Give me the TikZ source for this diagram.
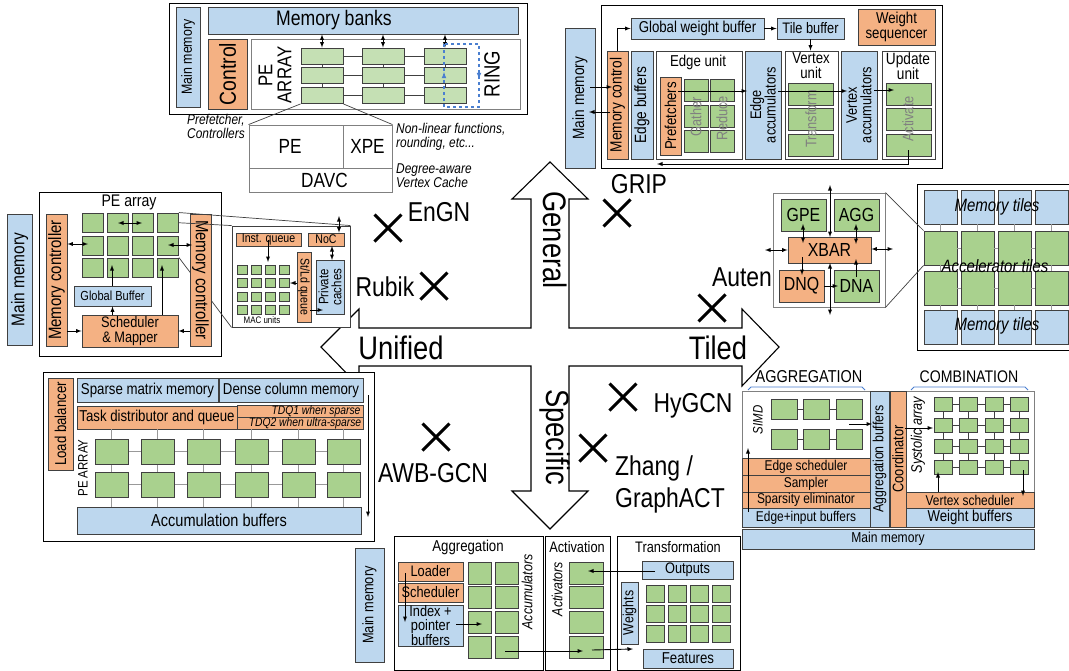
\documentclass[tikz,border=0pt]{standalone}
\usepackage{fontspec}
\setmainfont[Scale=1.05,FakeStretch=0.84]{Liberation Sans}
\usetikzlibrary{shapes.misc}
\definecolor{memblue}{HTML}{BDD7EE}
\definecolor{pegreen}{HTML}{A9D18E}
\definecolor{palegreen}{HTML}{C5E0B4}
\definecolor{ctlorange}{HTML}{F4B183}
\definecolor{edgegray}{HTML}{404040}
\definecolor{ringblue}{HTML}{4A7FD0}
\tikzset{%
  fs/.style      = {font=\fontsize{#1}{#1}\selectfont},%
  unit/.style    = {draw=edgegray, line width=.9pt, inner sep=0pt, align=center},%
  mem/.style     = {unit, fill=memblue},%
  pe/.style      = {unit, fill=pegreen},%
  palepe/.style  = {unit, fill=palegreen},%
  ctl/.style     = {unit, fill=ctlorange},%
  cell/.style    = {unit, draw=gray, fill=white},%
  frame/.style   = {unit, draw=black, fill=white},%
  lbl/.style     = {inner sep=0pt, align=center},%
  itl/.style     = {lbl, font=\fontsize{#1}{#1}\selectfont\itshape},%
  note/.style    = {lbl, align=left, font=\fontsize{13.5}{14}\selectfont\itshape},%
  ghost/.style   = {lbl, text=gray, rotate=90, fs=14.5},%
  link/.style    = {draw=edgegray, line width=.7pt},%
  lightlink/.style = {draw=gray!80, line width=.7pt},%
  arr/.style     = {-latex, black, line width=.9pt},%
  dbl/.style     = {latex-latex, black, line width=.9pt},%
  xmark/.style   = {cross out, draw=black, line width=3pt, minimum size=24pt, inner sep=0pt}%
}
\newcommand{\bx}[7]{\node[#1, minimum width=#5-#3, minimum height=#6-#4] (#2) at ({(#3+#5)/2},{(#4+#6)/2}) {#7};}
\newcommand{\vbx}[8][90]{\node[#2, rotate=#1, minimum width=#7-#5, minimum height=#6-#4] (#3) at ({(#4+#6)/2},{(#5+#7)/2}) {#8};}
\begin{document}
\begin{tikzpicture}[x=1pt, y=-1pt]
  \useasboundingbox (0,0) rectangle (1069,670);
  \fill[white] (0,0) rectangle (1069,670);
  \draw[fill=white, line width=1.1pt, line join=miter]
    (550,162) -- (588,199) -- (569,199) -- (569,328) -- (742,328) -- (742,309) -- (779,347) -- (742,386)
    -- (742,366) -- (569,366) -- (569,491) -- (588,491) -- (550,529) -- (512,491) -- (531,491) -- (531,366)
    -- (359,366) -- (359,386) -- (321,347) -- (359,309) -- (359,328) -- (531,328) -- (531,199) -- (512,199) -- cycle;
  \node[lbl, rotate=-90, fs=31] (general) at (555,240) {General};
  \node[lbl, rotate=-90, fs=31] (specific) at (555,437) {Specific};
  \node[lbl, fs=31] (unified) at (401,348) {Unified};
  \node[lbl, fs=31] (tiled) at (718,348) {Tiled};
  \foreach \n/\x/\y in {engn/388/228, rubik/434/286, grip/617/213, auten/712/308, awb/436/437, hygcn/623/397, zhang/593/448}
    \node[xmark] (x\n) at (\x,\y) {};
  \node[lbl, fs=26] (lengn) at (439,212) {EnGN};
  \node[lbl, fs=26] (lrubik) at (385,287) {Rubik};
  \node[lbl, fs=26] (lgrip) at (639,184) {GRIP};
  \node[lbl, fs=26] (lauten) at (742,277) {Auten};
  \node[lbl, fs=26] (lawb) at (433,473) {AWB-GCN};
  \node[lbl, fs=26] (lhygcn) at (693,406) {HyGCN};
  \node[lbl, align=left, anchor=west, font=\fontsize{26}{32}\selectfont] (lzhang) at (615,484) {Zhang /\\GraphACT};

  \bx{frame}{ebox}{169}{3}{527}{114}{}
  \vbx{mem,fs=14}{emm}{176}{7}{200}{107}{Main memory}
  \bx{mem,fs=20}{ebanks}{208}{7}{518}{34}{Memory banks\hspace*{58pt}}
  \vbx{ctl,fs=22}{ectl}{208}{39}{247}{109}{Control}
  \bx{cell}{earr}{251}{39}{520}{109}{}
  \node[lbl, rotate=90, fs=19] (epe) at (275,75) {PE\\ARRAY};
  \foreach \cc/\x in {1/301,2/362,3/424}
    \foreach \rr/\y in {1/48,2/67,3/87}
      \bx{palepe}{eg\rr\cc}{\x}{\y}{\x+42}{\y+16.5}{};
  \foreach \rr in {1,2,3}
    \draw[link] (eg\rr1) -- (eg\rr2) -- (eg\rr3);
  \foreach \cc in {1,2,3} {
    \draw[link] (eg1\cc) -- (eg2\cc) -- (eg3\cc);
    \draw[dbl] (ebanks.south -| eg1\cc) -- (eg1\cc);
  }
  \coordinate (ringa) at (444,44);
  \coordinate (ringb) at (479,107);
  \draw[ringblue, dashed, line width=1.1pt] (ringa) rectangle (ringb);
  \foreach \n/\x/\y in {ringu/444/78, ringv/444/72, ringw/479/73, ringz/479/79}
    \coordinate (\n) at (\x,\y);
  \draw[-latex, ringblue, line width=1.1pt] (ringu) -- (ringv);
  \draw[-latex, ringblue, line width=1.1pt] (ringw) -- (ringz);
  \node[lbl, rotate=90, fs=21] (ering) at (492,74) {RING};
  \bx{cell,fs=19.5}{epex}{249}{125}{343}{168}{PE\hspace*{12pt}}
  \bx{cell,fs=19.5}{expe}{343}{125}{392}{168}{XPE}
  \bx{cell,fs=19.5}{edavc}{249}{168}{392}{192}{\hspace*{8pt}DAVC}
  \draw[link] (eg31.south west) -- (epex.north west);
  \draw[link] (eg31.south east) -- (expe.north east);
  \node[note, anchor=north west] (epref) at (187,114) {Prefetcher,\\Controllers};
  \node[note, anchor=north west] (enon) at (396,123) {Non-linear functions,\\rounding, etc...};
  \node[note, anchor=north west] (edeg) at (396,164) {Degree-aware\\Vertex Cache};

  \vbx{mem,fs=15.5}{gmm}{565}{28}{595}{168}{Main memory}
  \bx{frame}{gbox}{601}{5}{942}{168}{}
  \bx{mem,fs=15}{gwb}{631}{18}{764}{39}{Global weight buffer}
  \bx{mem,fs=14.5}{gtile}{777}{18}{844}{39}{Tile buffer}
  \bx{ctl,fs=15}{gseq}{858}{9}{935}{45}{Weight\\sequencer}
  \vbx{ctl,fs=15.5}{gmc}{607}{51}{628}{159}{Memory control}
  \vbx{mem,fs=15.5}{geb}{631}{51}{653}{159}{Edge buffers}
  \bx{frame,draw=edgegray}{geu}{656}{51}{742}{159}{}
  \node[lbl, fs=15] (lgeu) at (698,62) {Edge unit};
  \vbx{ctl,fs=15}{gpf}{660}{77}{681}{155}{Prefetchers}
  \foreach \cc/\x in {1/684,2/710}
    \foreach \rr/\y in {1/79,2/105,3/130}
      \bx{pe}{gg\rr\cc}{\x}{\y}{\x+24}{\y+22}{};
  \node[ghost] (lgather) at (696,117) {Gather};
  \node[ghost] (lreduce) at (722,118) {Reduce};
  \vbx{mem,fs=14.5}{gea}{745}{51}{781}{159}{Edge\\accumulators}
  \bx{frame,draw=edgegray}{gvu}{785}{51}{838}{159}{}
  \node[lbl, fs=15] (lgvu) at (811,66) {Vertex\\unit};
  \vbx{mem,fs=14.5}{gva}{841}{51}{877}{159}{Vertex\\accumulators}
  \bx{frame,draw=edgegray}{guu}{882}{51}{935}{159}{}
  \node[lbl, fs=15.5] (lguu) at (908,66) {Update\\unit};
  \foreach \rr/\y in {1/83,2/108,3/134} {
    \bx{pe}{gt\rr}{788}{\y}{833}{\y+22}{};
    \bx{pe}{ga\rr}{886}{\y}{931}{\y+22}{};
  }
  \node[ghost] (ltransform) at (811,119) {Transform};
  \node[ghost] (lactivate) at (908,119) {Activate};
  \foreach \n/\x/\y in {ga/617/51, gb/590/87, gc/612/87, gd/610/112, ge/589/112, gf/678/91, gg/747/91, gh/778/91, gi/847/91, gj/874/90, gk/894/90, gl/908/150, gm/657/164}
    \coordinate (\n) at (\x,\y);
  \draw[arr] (ga) |- (gwb);
  \draw[arr] (gwb) -- (gtile);
  \draw[arr] (gtile.south) -- (gvu.north -| gtile.south);
  \draw[arr] (gb) -- (gc);
  \draw[arr] (gd) -- (ge);
  \draw[arr] (gf) -- (gg);
  \draw[arr] (gh) -- (gi);
  \draw[arr] (gj) -- (gk);
  \draw[arr] (gl) |- (gm);

  \vbx{mem,fs=17.5}{rmm}{7}{214}{32}{345}{Main memory}
  \bx{frame}{rbox}{39}{192}{221}{356}{}
  \node[lbl, fs=16] (lrpe) at (129,202) {PE array};
  \foreach \cc/\x in {1/82,2/107,3/132,4/157}
    \foreach \rr/\y in {1/213,2/236,3/258}
      \bx{pe}{rg\rr\cc}{\x}{\y}{\x+21.5}{\y+19.5}{};
  \bx{frame,draw=edgegray}{rsub}{232}{226}{350}{327}{}
  \draw[link] (rg34.north east) -- (rsub.south west);
  \vbx{ctl,fs=17}{rmcl}{46}{214}{67}{346}{Memory controller}
  \vbx[-90]{ctl,fs=17}{rmcr}{190}{214}{211}{346}{Memory controller}
  \draw[link] (rg14.north east) -- (rsub.north east);
  \draw[link] (rg14.east) -- (rsub.north west);
  \bx{mem,fs=12.5}{rgb}{74}{286}{151}{306}{Global Buffer}
  \bx{ctl,fs=14.5}{rsch}{82}{315}{178}{347}{Scheduler\\\& Mapper}
  \bx{ctl,fs=12}{rinst}{236}{233}{301}{246}{Inst. queue}
  \bx{ctl,fs=12}{rnoc}{308}{233}{344}{246}{NoC}
  \vbx[-90]{ctl,fs=12}{rsl}{297}{252}{311}{322}{St/Ld queue}
  \vbx{mem,fs=13}{rpc}{316}{260}{344}{314}{Private\\caches}
  \foreach \cc/\x in {1/237,2/251,3/265,4/279}
    \foreach \rr/\y in {1/265,2/278,3/292,4/305}
      \bx{pe}{rm\rr\cc}{\x}{\y}{\x+10}{\y+9.5}{};
  \node[lbl, fs=9] (lrmac) at (262,320) {MAC units};
  \foreach \n/\x/\y in {ra/88/244, rb/118/223, rc/142/223, rd/168/245, re/192/245, rf/112/265, rg/162/265, rh/268/240, ri/268/262, rj/339/216, rk/310/310, rl/323/310, rm/290/283, rn/332/246, ro/332/260}
    \coordinate (\n) at (\x,\y);
  \draw[dbl] (rmcl.south |- ra) -- (ra);
  \draw[dbl] (rb) -- (rc);
  \draw[dbl] (rd) -- (re);
  \draw[arr] (rgb.north -| rf) -- (rf);
  \draw[arr] (rsch.north -| rgb) -- (rgb);
  \draw[arr] (rsch.north -| rg) -- (rg);
  \draw[arr] (rmcl.south |- rsch) -- (rsch);
  \draw[arr] (rmcr.south |- rsch) -- (rsch);
  \draw[arr] (rh) -- (ri);
  \draw[dbl] (rn) -- (ro);
  \draw[dbl] (rj) -- (rnoc.north -| rj);
  \draw[arr] (rsl.south |- rm) -- (rm);
  \draw[arr] (rk) -- (rl);

  \bx{frame}{abox}{917}{184}{1071}{350}{}
  \foreach \cc/\x in {1/924,2/961,3/998,4/1035}
    \foreach \rr/\y/\s in {1/190/mem,2/231/pe,3/271/pe,4/310/mem}
      \bx{\s}{at\rr\cc}{\x}{\y}{\x+33}{\y+34}{};
  \foreach \cc in {1,2,3,4}
    \draw[lightlink] (at1\cc) -- (at2\cc) -- (at3\cc) -- (at4\cc);
  \foreach \rr in {2,3}
    \draw[lightlink] (at\rr1) -- (at\rr2) -- (at\rr3) -- (at\rr4);
  \node[itl=17] (lat1) at (997,207) {Memory tiles};
  \node[itl=17] (lat2) at (995,266) {Accelerator tiles};
  \node[itl=17] (lat3) at (997,326) {Memory tiles};
  \bx{cell}{anode}{773}{193}{885}{307}{}
  \draw[link] (anode.north east) -- (at21.north west);
  \draw[link] (anode.south east) -- (at21.south west);
  \bx{pe,fs=18}{agpe}{781}{199}{826}{231}{GPE}
  \bx{pe,fs=18}{aagg}{834}{199}{879}{231}{AGG}
  \bx{ctl,fs=18}{axbar}{788}{237}{871}{263}{XBAR}
  \bx{ctl,fs=18}{adnq}{779}{270}{824}{302}{DNQ}
  \bx{pe,fs=18}{adna}{834}{270}{879}{302}{DNA}
  \foreach \n/\x/\y in {aa/830/185, ab/830/237, ac/830/263, ad/830/315, ae/803/224, af/803/243, ag/856/224, ah/856/244, ai/765/250, aj/893/249, ak/802/257, al/802/275, am/856/277, an/856/259, ao/838/286}
    \coordinate (\n) at (\x,\y);
  \draw[dbl] (aa) -- (ab);
  \draw[dbl] (ac) -- (ad);
  \draw[dbl] (ae) -- (af);
  \draw[dbl] (ag) -- (ah);
  \draw[dbl] (ai) -- (axbar.west |- ai);
  \draw[dbl] (axbar.east |- aj) -- (aj);
  \draw[arr] (ak) -- (al);
  \draw[arr] (am) -- (an);
  \draw[arr] (adnq) -- (ao);

  \bx{frame}{wbox}{43}{372}{374}{541}{}
  \vbx{ctl,fs=15}{wlb}{48}{378}{73}{470}{Load balancer}
  \bx{mem,fs=15}{wsm}{77}{378}{218}{402}{Sparse matrix memory}
  \bx{mem,fs=15}{wdc}{219}{378}{363}{402}{Dense column memory}
  \bx{ctl,fs=15}{wtask}{77}{406}{237}{429}{Task distributor and queue}
  \bx{ctl,font=\fontsize{11.7}{11.7}\selectfont\itshape}{wq1}{237}{406}{363}{417}{\hspace*{32pt}TDQ1 when sparse}
  \bx{ctl,font=\fontsize{11.7}{11.7}\selectfont\itshape}{wq2}{237}{417}{363}{429}{\hspace*{10pt}TDQ2 when ultra-sparse}
  \node[lbl, rotate=90, fs=13] (lwpe) at (83,468) {PE ARRAY};
  \bx{mem,fs=16.5}{wacc}{77}{507}{361}{534}{Accumulation buffers}
  \foreach \cc/\x in {1/95,2/141,3/187,4/235,5/282,6/327}
    \foreach \rr/\y in {1/439,2/472}
      \bx{pe}{wg\rr\cc}{\x}{\y}{\x+33.5}{\y+25.5}{};
  \foreach \cc in {1,...,6} {
    \draw[lightlink] (wtask.south -| wg1\cc) -- (wg1\cc) -- (wg2\cc) -- (wacc.north -| wg2\cc);
  }
  \foreach \rr in {1,2}
    \draw[lightlink] (wg\rr1) -- (wg\rr2) -- (wg\rr3) -- (wg\rr4) -- (wg\rr5) -- (wg\rr6);
  \coordinate (wa) at (368,395);
  \coordinate (wb) at (368,517);
  \draw[arr] (wa) -- (wb);

  \node[lbl, fs=16.4] (lhag) at (809,377) {AGGREGATION};
  \node[lbl, fs=16] (lhco) at (969,377) {COMBINATION};
  \foreach \n/\x in {ha/748, hb/865, hc/911, hd/1028} {
    \coordinate (\n1) at (\x,390);
    \coordinate (\n2) at (\x,387);
  }
  \draw[ringblue, line width=.8pt] (ha1) -- ([xshift=3pt]ha2) -- ([xshift=-3pt]hb2) -- (hb1);
  \draw[ringblue, line width=.8pt] (hc1) -- ([xshift=3pt]hc2) -- ([xshift=-3pt]hd2) -- (hd1);
  \bx{cell}{hbox}{742}{391}{1034}{527}{}
  \vbx{mem,fs=14}{hab}{870}{391}{889}{527}{Aggregation buffers}
  \vbx{ctl,fs=14.5}{hco}{890}{391}{906}{527}{Coordinator}
  \bx{ctl,fs=13.5}{hes}{742}{458}{870}{475}{Edge scheduler}
  \bx{ctl,fs=13.5}{hsa}{742}{475}{870}{492}{Sampler}
  \bx{ctl,fs=13.5}{hsp}{742}{492}{870}{508}{Sparsity eliminator}
  \bx{mem,fs=13.5}{hei}{742}{508}{870}{527}{Edge+input buffers}
  \bx{ctl,fs=13.5}{hvs}{906}{492}{1034}{508}{Vertex scheduler}
  \bx{mem,fs=15}{hwb}{906}{508}{1034}{527}{Weight buffers}
  \bx{mem,fs=13.7}{hmm}{742}{529}{1034}{549}{Main memory}
  \foreach \cc/\x in {1/771,2/803,3/836}
    \foreach \rr/\y in {1/399,2/429}
      \bx{pe}{hs\rr\cc}{\x}{\y}{\x+26}{\y+20}{};
  \foreach \rr in {1,2}
    \draw[link] (hs\rr1) -- (hs\rr2) -- (hs\rr3);
  \node[itl=13, rotate=90] (lhsimd) at (758,420) {SIMD};
  \node[itl=14.5, rotate=90] (lhsys) at (918,435) {Systolic array};
  \foreach \cc/\x in {1/934,2/959,3/985,4/1010}
    \foreach \rr/\y in {1/397,2/418,3/439,4/460}
      \bx{pe}{hg\rr\cc}{\x}{\y}{\x+18}{\y+14.5}{};
  \foreach \rr in {1,2,3,4}
    \draw[link] (hg\rr1) -- (hg\rr2) -- (hg\rr3) -- (hg\rr4);
  \foreach \cc in {1,2,3,4}
    \draw[link] (hg1\cc) -- (hg2\cc) -- (hg3\cc) -- (hg4\cc);
  \foreach \n/\x/\y in {he/748/512, hf/748/448, hg/849/424, hh/872/424, hi/905/428, hj/933/428, hk/938/492, hl/938/472, hm/1023/470, hn/1023/496}
    \coordinate (\n) at (\x,\y);
  \draw[arr] (he) -- (hf);
  \draw[arr] (hg) -- (hh);
  \draw[arr] (hi) -- (hj);
  \draw[arr] (hk) -- (hl);
  \draw[arr] (hm) -- (hn);

  \vbx{mem,fs=14.5}{zmm}{355}{548}{384}{662}{Main memory}
  \bx{frame}{zag}{394}{536}{543}{670}{}
  \bx{frame}{zac}{545}{536}{610}{670}{}
  \bx{frame}{ztr}{617}{536}{740}{670}{}
  \node[lbl, fs=15] (lzag) at (468,547) {Aggregation};
  \node[lbl, fs=14.5] (lzac) at (577,547) {Activation};
  \node[lbl, fs=14.5] (lztr) at (678,547) {Transformation};
  \bx{ctl,fs=14.5}{zlo}{398}{562}{463}{581}{Loader}
  \bx{ctl,fs=14.5}{zsc}{398}{583}{463}{602}{Scheduler}
  \bx{mem,fs=14.5}{zin}{398}{605}{463}{646}{Index +\\pointer\\buffers}
  \foreach \rr/\y in {1/562,2/586,3/611,4/636} {
    \bx{pe}{za\rr}{468}{\y}{491}{\y+22}{};
    \bx{pe}{zb\rr}{495}{\y}{518}{\y+22}{};
    \bx{pe}{zc\rr}{569}{\y}{603}{\y+22}{};
  }
  \node[itl=14, rotate=90] (lzacc) at (527,592) {Accumulators};
  \node[itl=14, rotate=90] (lzact) at (557,589) {Activators};
  \bx{mem,fs=14.5}{zou}{642}{561}{733}{579}{Outputs}
  \vbx{mem,fs=14}{zwe}{621}{582}{638}{644}{Weights}
  \bx{mem,fs=15}{zfe}{643}{649}{733}{668}{Features}
  \foreach \cc/\x in {1/646,2/668,3/690,4/712}
    \foreach \rr/\y in {1/585,2/605,3/625}
      \bx{pe}{zg\rr\cc}{\x}{\y}{\x+18}{\y+17}{};
  \foreach \n/\x/\y in {za/655/571, zb/588/571, zc/405/573, zd/405/622, ze/456/624, zf/482/624, zh/505/651, zi/583/651, zj/592/650, zk/633/649}
    \coordinate (\n) at (\x,\y);
  \draw[arr] (za) -- (zb);
  \draw[arr] (zc) -- (zd);
  \draw[arr] (ze) -- (zf);
  \draw[arr] (zh) -- (zi);
  \draw[arr] (zj) -- (zk);
\end{tikzpicture}
\end{document}
